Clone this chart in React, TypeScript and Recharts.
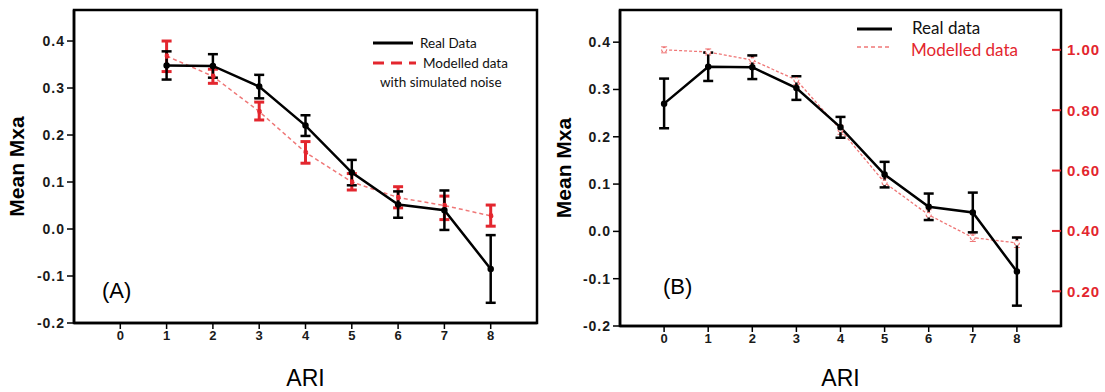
import { ComposedChart, Line, XAxis, YAxis, ErrorBar, ReferenceArea } from "recharts";

const RED = "#e3262e";
const PINK = "#ef7777";

// ARI categories and axis ticks
const ariValues = [0, 1, 2, 3, 4, 5, 6, 7, 8];
const xTicks = [0, 1, 2, 3, 4, 5, 6, 7, 8];
const mxaTicks = [-0.2, -0.1, 0, 0.1, 0.2, 0.3, 0.4];
const modelTicks = [0.2, 0.4, 0.6, 0.8, 1.0];

// real data (mean Mxa with error range), ARI 0..8
const realMean = [0.27, 0.348, 0.347, 0.303, 0.22, 0.12, 0.052, 0.04, -0.085];
const realLow = [0.218, 0.318, 0.322, 0.278, 0.198, 0.093, 0.024, -0.002, -0.157];
const realHigh = [0.323, 0.378, 0.372, 0.328, 0.242, 0.147, 0.08, 0.082, -0.013];

// modelled data with simulated noise (panel A), ARI 1..8
const noisyMean = [0.368, 0.325, 0.25, 0.163, 0.1, 0.067, 0.05, 0.028];
const noisyLow = [0.335, 0.31, 0.232, 0.14, 0.083, 0.045, 0.02, 0.006];
const noisyHigh = [0.4, 0.34, 0.27, 0.186, 0.118, 0.09, 0.07, 0.051];

// modelled data (panel B, right axis), ARI 0..8
const modelMean = [1.0, 0.993, 0.966, 0.9, 0.735, 0.56, 0.453, 0.378, 0.36];
const modelLow = [0.99, 0.983, 0.955, 0.885, 0.72, 0.545, 0.435, 0.365, 0.345];
const modelHigh = [1.01, 1.003, 0.977, 0.915, 0.75, 0.575, 0.47, 0.39, 0.38];

const leftData = ariValues.slice(1).map((ari, i) => ({
  ari,
  real: realMean[i + 1],
  realErr: [realMean[i + 1] - realLow[i + 1], realHigh[i + 1] - realMean[i + 1]],
  noisy: noisyMean[i],
  noisyErr: [noisyMean[i] - noisyLow[i], noisyHigh[i] - noisyMean[i]],
}));

const rightData = ariValues.map((ari, i) => ({
  ari,
  real: realMean[i],
  realErr: [realMean[i] - realLow[i], realHigh[i] - realMean[i]],
  model: modelMean[i],
  modelErr: [modelMean[i] - modelLow[i], modelHigh[i] - modelMean[i]],
}));

const axisFont = "'Liberation Sans', Arial, sans-serif";
const legendFont = "Lato, 'Open Sans', sans-serif";

const tickStyle = { fill: "#1a1a1a", fontSize: 14, fontWeight: "bold", fontFamily: axisFont };

const RedTick = (props: any) => {
  const { x, y, payload } = props;
  const ax = x - 6;
  return (
    <g>
      <line x1={ax - 9} y1={y} x2={ax} y2={y} stroke={RED} strokeWidth={2} />
      <text
        x={ax + 6}
        y={y}
        dy="0.355em"
        fill={RED}
        fontSize={15}
        fontWeight="bold"
        fontFamily={axisFont}
        letterSpacing={1}
      >
        {Number(payload.value).toFixed(2)}
      </text>
    </g>
  );
};

const Panel = ({ which }: { which: "A" | "B" }) => {
  const isA = which === "A";
  const yTop = isA ? 0.466 : 0.468;
  return (
    <ComposedChart
      width={isA ? 552 : 553}
      height={392}
      data={isA ? leftData : rightData}
      margin={{ top: 10, right: isA ? 15 : 0, bottom: 0, left: 0 }}
    >
      <XAxis
        dataKey="ari"
        type="number"
        domain={[-1, 9]}
        ticks={xTicks}
        height={isA ? 69 : 66}
        axisLine={{ stroke: "#000", strokeWidth: 2.5 }}
        tickLine={{ stroke: "#000", strokeWidth: 1.5 }}
        tickSize={6}
        tick={{ ...tickStyle, fontSize: 13 }}
        label={{
          value: "ARI",
          position: "insideBottom",
          offset: 6,
          style: { fontSize: 23, fill: "#000", fontFamily: axisFont },
        }}
      />
      <YAxis
        type="number"
        domain={[-0.2, yTop]}
        ticks={mxaTicks}
        width={isA ? 74 : 68}
        allowDataOverflow
        axisLine={{ stroke: "#000", strokeWidth: 2.5 }}
        tickLine={{ stroke: "#000", strokeWidth: 1.5 }}
        tickSize={7}
        tick={{ ...tickStyle, letterSpacing: 1 }}
        tickFormatter={(v: number) => v.toFixed(1)}
        label={{
          value: "Mean Mxa",
          angle: -90,
          position: "insideLeft",
          offset: isA ? 17 : 12,
          style: { fontSize: 21, fontWeight: "bold", fill: "#000", fontFamily: axisFont, textAnchor: "middle" },
        }}
      />
      {!isA && (
        <YAxis
          yAxisId="red"
          orientation="right"
          type="number"
          domain={[0.085, 1.132]}
          ticks={modelTicks}
          width={44}
          allowDataOverflow
          axisLine={false}
          tickLine={false}
          tickSize={0}
          tickMargin={6}
          tick={<RedTick />}
        />
      )}
      <ReferenceArea
        x1={-1}
        x2={9}
        y1={-0.2}
        y2={yTop}
        fill="none"
        fillOpacity={0}
        stroke="#000"
        strokeWidth={2.5}
        ifOverflow="visible"
      />
      {isA ? (
        <Line
          dataKey="noisy"
          stroke={PINK}
          strokeWidth={1.5}
          strokeDasharray="4 3"
          dot={{ r: 2, fill: RED, stroke: RED }}
          isAnimationActive={false}
        >
          <ErrorBar dataKey="noisyErr" width={5} stroke={RED} strokeWidth={3} direction="y" isAnimationActive={false} />
        </Line>
      ) : (
        <Line
          yAxisId="red"
          dataKey="model"
          stroke={PINK}
          strokeWidth={1.3}
          strokeDasharray="3 2"
          dot={{ r: 2.5, fill: "#fff", stroke: PINK, strokeWidth: 1.2 }}
          isAnimationActive={false}
        >
          <ErrorBar dataKey="modelErr" width={3} stroke={PINK} strokeWidth={1} direction="y" isAnimationActive={false} />
        </Line>
      )}
      <Line
        dataKey="real"
        stroke="#000"
        strokeWidth={2.5}
        dot={{ r: 2, fill: "#000", stroke: "#000" }}
        isAnimationActive={false}
      >
        <ErrorBar dataKey="realErr" width={5} stroke="#000" strokeWidth={2.5} direction="y" isAnimationActive={false} />
      </Line>
    </ComposedChart>
  );
};

const txt = (left: number, cy: number, size: number, color: string, text: string, font = legendFont) => (
  <div
    style={{
      position: "absolute",
      left,
      top: cy - size * 0.6,
      fontSize: size,
      lineHeight: `${size * 1.2}px`,
      color,
      fontFamily: font,
      whiteSpace: "nowrap",
    }}
  >
    {text}
  </div>
);

export default function App() {
  return (
    <div
      style={{
        position: "absolute",
        left: 0,
        top: 0,
        width: 1105,
        height: 392,
        background: "#fff",
        overflow: "hidden",
      }}
    >
      <div style={{ position: "absolute", left: 0, top: 0 }}>
        <Panel which="A" />
      </div>
      <div style={{ position: "absolute", left: 552, top: 0 }}>
        <Panel which="B" />
      </div>

      {/* legend line samples for both panels */}
      <svg style={{ position: "absolute", left: 0, top: 0 }} width={1105} height={392} pointerEvents="none">
        <line x1={373} y1={43} x2={413} y2={43} stroke="#000" strokeWidth={3} />
        <line x1={373} y1={63} x2={416} y2={63} stroke={RED} strokeWidth={3} strokeDasharray="11 7" />
        <line x1={857} y1={29} x2={892} y2={29} stroke="#000" strokeWidth={3} />
        <line x1={857} y1={47} x2={892} y2={47} stroke={PINK} strokeWidth={1.5} strokeDasharray="4 3" />
      </svg>
      {txt(420, 43, 13.5, "#111", "Real Data")}
      {txt(423, 63, 13.5, "#111", "Modelled data")}
      {txt(380, 82, 13.5, "#111", "with simulated noise")}
      {txt(912, 28, 17, "#111", "Real data")}
      {txt(911, 50, 17, RED, "Modelled data")}
      {txt(102, 291, 22, "#000", "(A)", axisFont)}
      {txt(663, 287, 22, "#000", "(B)", axisFont)}
    </div>
  );
}
